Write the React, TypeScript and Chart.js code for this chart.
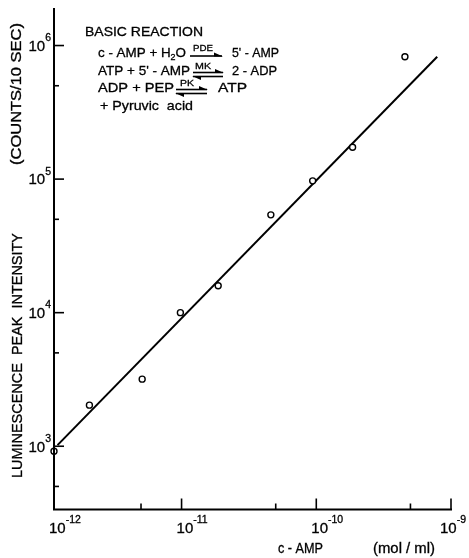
import React, { useEffect, useRef } from "react";
import { Chart, registerables } from "chart.js";

Chart.register(...registerables);

// ---- data ----
const concentrations = [1.13e-12, 2.07e-12, 5.1e-12, 9.8e-12, 1.87e-11, 4.6e-11, 9.4e-11, 1.86e-10, 4.55e-10];
const intensities = [917, 2030, 3180, 10000, 15900, 54000, 97000, 173000, 824000];
const fitLineX = [1.2e-12, 7.9e-10];
const fitLineY = [1020, 824000];

const xMajorTicks = [1.13e-12, 1e-11, 1e-10, 1e-9];
const xTickExponents = ["-12", "-11", "-10", "-9"];
const xMinorTicks = [5e-12, 5e-11, 5e-10];
const yMajorTicks = [1e3, 1e4, 1e5, 1e6];
const yTickExponents = ["3", "4", "5", "6"];
const yMinorTicks = [5e2, 5e3, 5e4, 5e5];

const xAxisTitle = "c - AMP";
const xAxisUnit = "(mol / ml)";
const yAxisTitle = "LUMINESCENCE  PEAK  INTENSITY";
const yAxisUnit = "(COUNTS/10 SEC)";

const FF = '"Liberation Sans", Arial, sans-serif';

type Run = [string, number, number]; // text, size, dy

function drawRuns(ctx: CanvasRenderingContext2D, runs: Run[], x: number, baseline: number, width?: number) {
  let total = 0;
  const ws: number[] = [];
  for (const [t, s] of runs) {
    ctx.font = `${s}px ${FF}`;
    const w = ctx.measureText(t).width;
    ws.push(w);
    total += w;
  }
  const sx = width ? width / total : 1;
  ctx.save();
  ctx.translate(x, baseline);
  ctx.scale(sx, 1);
  ctx.textAlign = "left";
  ctx.textBaseline = "alphabetic";
  ctx.lineWidth = 0.3;
  let cx = 0;
  runs.forEach(([t, s, dy], i) => {
    ctx.font = `${s}px ${FF}`;
    ctx.fillText(t, cx, dy);
    ctx.strokeText(t, cx, dy);
    cx += ws[i];
  });
  ctx.restore();
  return total * sx;
}

function measureRuns(ctx: CanvasRenderingContext2D, runs: Run[]) {
  let total = 0;
  for (const [t, s] of runs) {
    ctx.font = `${s}px ${FF}`;
    total += ctx.measureText(t).width;
  }
  return total;
}

function harpoon(ctx: CanvasRenderingContext2D, x1: number, x2: number, y: number, dir: 1 | -1) {
  ctx.beginPath();
  ctx.moveTo(x1, y);
  ctx.lineTo(x2, y);
  ctx.stroke();
  ctx.beginPath();
  if (dir === 1) {
    ctx.moveTo(x2 + 1, y + 0.5);
    ctx.lineTo(x2 - 8, y - 3.5);
    ctx.lineTo(x2 - 8, y + 0.5);
  } else {
    ctx.moveTo(x1 - 1, y - 0.5);
    ctx.lineTo(x1 + 8, y + 3.5);
    ctx.lineTo(x1 + 8, y - 0.5);
  }
  ctx.closePath();
  ctx.fill();
}

const decorPlugin = {
  id: "decor",
  beforeDraw(chart: any) {
    const ctx = chart.ctx;
    ctx.save();
    ctx.fillStyle = "#fff";
    ctx.fillRect(0, 0, chart.width, chart.height);
    ctx.restore();
  },
  afterDraw(chart: any) {
    const ctx: CanvasRenderingContext2D = chart.ctx;
    const { left, right, top, bottom } = chart.chartArea;
    const xs = chart.scales.x;
    const ys = chart.scales.y;
    ctx.save();
    ctx.strokeStyle = "#000";
    ctx.fillStyle = "#000";
    // spines
    ctx.lineWidth = 2;
    ctx.beginPath();
    ctx.moveTo(left, top);
    ctx.lineTo(left, bottom);
    ctx.lineTo(right + 1, bottom);
    ctx.stroke();
    // ticks (inward)
    ctx.lineWidth = 1.6;
    xMajorTicks.forEach((v) => {
      const px = Math.max(xs.getPixelForValue(v), left);
      if (px <= left + 1) return;
      ctx.beginPath();
      ctx.moveTo(px, bottom);
      ctx.lineTo(px, bottom - 11);
      ctx.stroke();
    });
    xMinorTicks.forEach((v) => {
      const px = xs.getPixelForValue(v);
      ctx.beginPath();
      ctx.moveTo(px, bottom);
      ctx.lineTo(px, bottom - 6);
      ctx.stroke();
    });
    yMajorTicks.forEach((v) => {
      const py = ys.getPixelForValue(v);
      ctx.beginPath();
      ctx.moveTo(left, py);
      ctx.lineTo(left + 10, py);
      ctx.stroke();
    });
    yMinorTicks.forEach((v) => {
      const py = ys.getPixelForValue(v);
      ctx.beginPath();
      ctx.moveTo(left, py);
      ctx.lineTo(left + 5, py);
      ctx.stroke();
    });
    // y tick labels
    yMajorTicks.forEach((v, i) => {
      const py = ys.getPixelForValue(v);
      const runs: Run[] = [["10", 15, 0], [yTickExponents[i], 10.5, -9.5]];
      const w = measureRuns(ctx, runs);
      drawRuns(ctx, runs, 51 - w, py + 5.3);
    });
    // x tick labels
    xMajorTicks.forEach((v, i) => {
      const px = Math.max(xs.getPixelForValue(v), left);
      const runs: Run[] = [["10", 15, 0], [xTickExponents[i], 10.5, -10.5]];
      const w = measureRuns(ctx, runs);
      const lx = Math.min(px - 5, chart.width - w - 3);
      drawRuns(ctx, runs, lx, 533);
    });
    // axis titles
    drawRuns(ctx, [[xAxisTitle, 14, 0]], 278, 553, 45);
    drawRuns(ctx, [[xAxisUnit, 14, 0]], 373, 553, 62);
    ctx.save();
    ctx.translate(22, 478);
    ctx.rotate(-Math.PI / 2);
    drawRuns(ctx, [[yAxisTitle, 14, 0]], 0, 0, 245);
    ctx.restore();
    ctx.save();
    ctx.translate(21, 165);
    ctx.rotate(-Math.PI / 2);
    drawRuns(ctx, [[yAxisUnit, 14, 0]], 0, 0, 142);
    ctx.restore();

    // reaction annotation
    drawRuns(ctx, [["BASIC REACTION", 13, 0]], 85, 36, 118);
    drawRuns(ctx, [["c - AMP + H", 13.5, 0], ["2", 9, 3], ["O", 13.5, 0]], 98, 57, 88);
    drawRuns(ctx, [["PDE", 9.5, 0]], 193, 51, 20);
    ctx.lineWidth = 1.6;
    harpoon(ctx, 190, 222, 56, 1);
    drawRuns(ctx, [["5' - AMP", 13.5, 0]], 232, 57, 47);

    drawRuns(ctx, [["ATP + 5' - AMP", 13.5, 0]], 98, 75, 92);
    drawRuns(ctx, [["MK", 9.5, 0]], 195, 69, 16);
    ctx.lineWidth = 1.6;
    harpoon(ctx, 193, 223, 72.5, 1);
    harpoon(ctx, 193, 223, 76.5, -1);
    drawRuns(ctx, [["2 - ADP", 13.5, 0]], 232, 75, 45);

    drawRuns(ctx, [["ADP + PEP", 13.5, 0]], 98, 92, 76);
    drawRuns(ctx, [["PK", 9.5, 0]], 180, 86, 14);
    ctx.lineWidth = 1.6;
    harpoon(ctx, 176, 207, 89.5, 1);
    harpoon(ctx, 176, 207, 93.5, -1);
    drawRuns(ctx, [["ATP", 13.5, 0]], 218, 92, 29);

    drawRuns(ctx, [["+ Pyruvic  acid", 13.5, 0]], 100, 110, 93);
    ctx.restore();
  },
};

export default function App() {
  const ref = useRef<HTMLCanvasElement | null>(null);
  useEffect(() => {
    if (!ref.current) return;
    const chart = new Chart(ref.current, {
      type: "scatter",
      data: {
        datasets: [
          {
            data: concentrations.map((x, i) => ({ x, y: intensities[i] })),
            showLine: false,
            pointRadius: 3,
            pointBorderWidth: 1.4,
            pointBorderColor: "#000",
            pointBackgroundColor: "#fff",
            clip: false,
          },
          {
            data: fitLineX.map((x, i) => ({ x, y: fitLineY[i] })),
            showLine: true,
            borderColor: "#000",
            borderWidth: 2,
            pointRadius: 0,
            clip: false,
          },
        ],
      },
      options: {
        responsive: false,
        animation: false,
        events: [],
        layout: { padding: { left: 54, right: 18, top: 8, bottom: 48.5 } },
        plugins: { legend: { display: false }, tooltip: { enabled: false } },
        scales: {
          x: { type: "logarithmic", min: 1.13e-12, max: 1e-9, display: false },
          y: { type: "logarithmic", min: 336, max: 1.91e6, display: false },
        },
      },
      plugins: [decorPlugin],
    } as any);
    return () => chart.destroy();
  }, []);
  return (
    <div style={{ position: "fixed", left: 0, top: 0, width: 469, height: 558, background: "#fff" }}>
      <canvas ref={ref} width={469} height={558} style={{ display: "block", width: 469, height: 558 }} />
    </div>
  );
}
